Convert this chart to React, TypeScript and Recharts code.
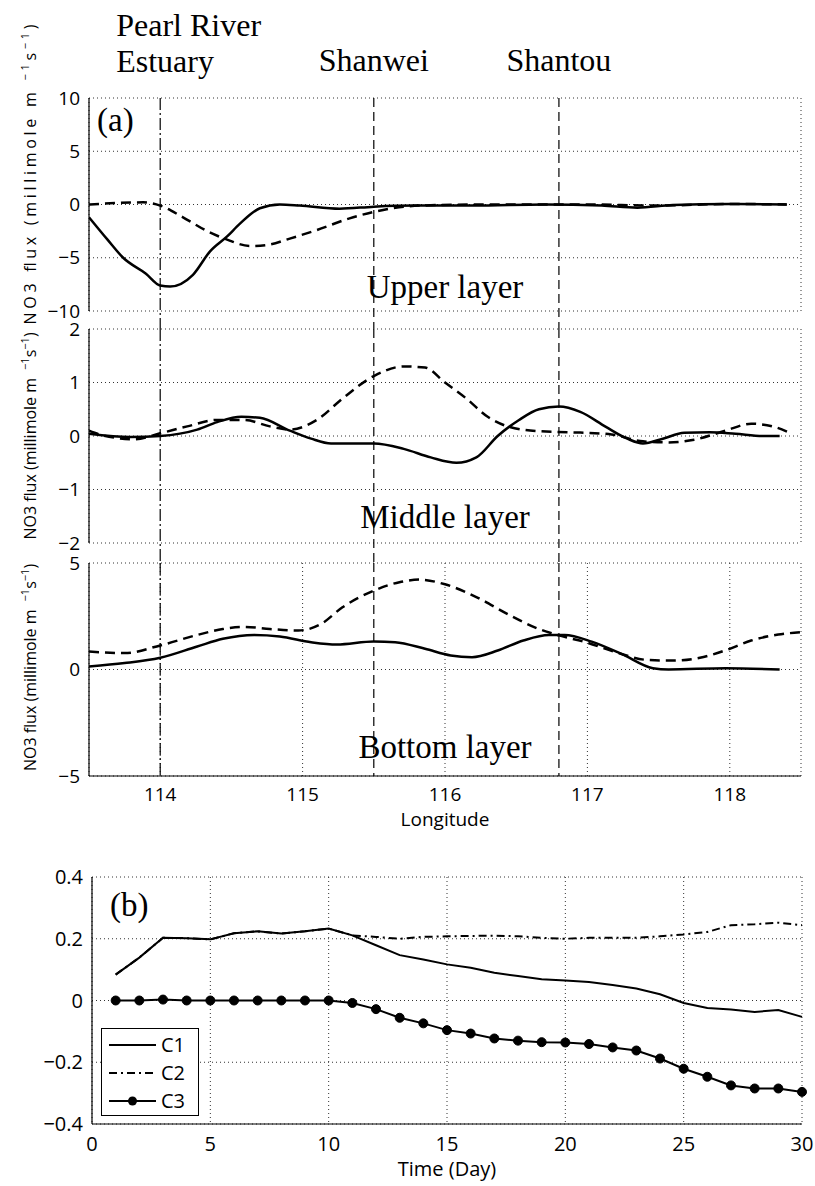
import React from "react";
import {
  CartesianGrid,
  Legend,
  Line,
  LineChart,
  ReferenceLine,
  XAxis,
  YAxis,
} from "recharts";

// ---- panel (a): NO3 flux along the coast, [longitude, value] ----
const LON_DOMAIN: [number, number] = [113.5, 118.5];
const LON_TICKS = [114, 115, 116, 117, 118];

const upperSolid: [number, number][] = [
  [113.5, -1.2], [113.63, -3.3], [113.74, -5.0], [113.9, -6.5], [114.0, -7.6],
  [114.07, -7.7], [114.23, -6.6], [114.35, -4.4], [114.47, -3.0], [114.56, -1.8],
  [114.7, -0.35], [114.84, 0.0], [114.98, -0.1], [115.26, -0.4], [115.5, -0.2],
  [115.8, -0.1], [116.2, -0.1], [116.7, 0.0], [117.1, -0.1], [117.35, -0.3],
  [117.6, -0.05], [118.0, 0.05], [118.4, 0.0],
];
const upperDashed: [number, number][] = [
  [113.5, 0.0], [113.88, 0.2], [114.0, -0.1], [114.16, -1.2], [114.33, -2.5],
  [114.47, -3.3], [114.63, -3.9], [114.75, -3.8], [114.91, -3.2], [115.1, -2.4],
  [115.33, -1.3], [115.5, -0.7], [115.82, -0.1], [116.3, 0.0], [117.0, 0.0],
  [117.5, -0.1], [118.0, 0.05], [118.4, 0.0],
];
const middleSolid: [number, number][] = [
  [113.5, 0.04], [113.79, -0.02], [114.0, 0.0], [114.26, 0.12], [114.4, 0.26],
  [114.57, 0.36], [114.7, 0.34], [114.91, 0.1], [115.06, -0.05], [115.2, -0.14],
  [115.5, -0.14], [115.71, -0.24], [115.9, -0.4], [116.08, -0.5], [116.22, -0.4],
  [116.37, 0.0], [116.52, 0.3], [116.66, 0.5], [116.8, 0.55], [116.95, 0.45],
  [117.13, 0.17], [117.28, -0.05], [117.39, -0.14], [117.53, -0.05], [117.68, 0.06],
  [117.86, 0.07], [118.04, 0.04], [118.23, 0.0], [118.35, 0.0],
];
const middleDashed: [number, number][] = [
  [113.5, 0.1], [113.6, 0.01], [113.82, -0.06], [114.0, 0.05], [114.19, 0.18],
  [114.4, 0.3], [114.59, 0.3], [114.77, 0.18], [114.91, 0.12], [115.1, 0.3],
  [115.28, 0.7], [115.5, 1.12], [115.71, 1.3], [115.86, 1.28], [116.0, 1.0],
  [116.15, 0.7], [116.3, 0.36], [116.44, 0.18], [116.66, 0.09], [116.88, 0.07],
  [117.17, 0.03], [117.39, -0.1], [117.57, -0.12], [117.75, -0.07], [117.97, 0.1],
  [118.15, 0.23], [118.3, 0.18], [118.42, 0.06],
];
const bottomSolid: [number, number][] = [
  [113.5, 0.14], [113.75, 0.3], [114.0, 0.55], [114.26, 1.08], [114.44, 1.44],
  [114.66, 1.62], [114.84, 1.55], [115.06, 1.28], [115.24, 1.17], [115.5, 1.31],
  [115.65, 1.28], [115.86, 0.97], [116.04, 0.66], [116.19, 0.58], [116.37, 0.89],
  [116.55, 1.36], [116.73, 1.62], [116.84, 1.62], [117.03, 1.31], [117.24, 0.73],
  [117.46, 0.06], [117.57, 0.0], [117.97, 0.06], [118.35, 0.0],
];
const bottomDashed: [number, number][] = [
  [113.5, 0.84], [113.75, 0.77], [114.0, 1.13], [114.26, 1.62], [114.44, 1.9],
  [114.59, 2.0], [114.77, 1.9], [114.97, 1.83], [115.13, 2.14], [115.28, 2.92],
  [115.5, 3.7], [115.68, 4.1], [115.82, 4.22], [116.0, 4.0], [116.22, 3.4],
  [116.44, 2.6], [116.66, 1.9], [116.8, 1.6], [116.99, 1.28], [117.2, 0.81],
  [117.42, 0.45], [117.6, 0.42], [117.79, 0.55], [117.97, 0.9], [118.15, 1.36],
  [118.34, 1.64], [118.5, 1.75],
];

const SITES = [
  { name: ["Pearl River", "Estuary"], lon: 114.0, dash: "12 3 2 3" },
  { name: ["Shanwei"], lon: 115.5, dash: "9 5" },
  { name: ["Shantou"], lon: 116.8, dash: "9 5" },
];

// ---- panel (b): daily series ----
const DAYS = [
  1, 2, 3, 4, 5, 6, 7, 8, 9, 10, 11, 12, 13, 14, 15,
  16, 17, 18, 19, 20, 21, 22, 23, 24, 25, 26, 27, 28, 29, 30,
];
const C1 = [
  0.084, 0.139, 0.203, 0.202, 0.198, 0.218, 0.224, 0.217, 0.224, 0.233,
  0.211, 0.179, 0.147, 0.133, 0.117, 0.106, 0.09, 0.079, 0.069, 0.065,
  0.06, 0.05, 0.039, 0.02, -0.008, -0.024, -0.029, -0.037, -0.031, -0.053,
];
const C2 = [
  0.084, 0.139, 0.203, 0.202, 0.198, 0.218, 0.224, 0.217, 0.224, 0.233,
  0.211, 0.206, 0.2, 0.206, 0.208, 0.209, 0.21, 0.208, 0.203, 0.2,
  0.203, 0.203, 0.203, 0.208, 0.214, 0.222, 0.244, 0.247, 0.252, 0.244,
];
const C3 = [
  0, 0, 0.003, 0, 0, 0, 0, 0, 0, 0,
  -0.008, -0.028, -0.056, -0.074, -0.096, -0.107, -0.123, -0.13, -0.135, -0.136,
  -0.141, -0.152, -0.162, -0.188, -0.221, -0.247, -0.275, -0.285, -0.285, -0.296,
];
const DAY_TICKS = [0, 5, 10, 15, 20, 25, 30];
const B_TICKS = [-0.4, -0.2, 0, 0.2, 0.4];

const B_SERIES = [
  { key: "c1", name: "C1", dash: undefined as string | undefined, dot: false },
  { key: "c2", name: "C2", dash: "8 4 2 4", dot: false },
  { key: "c3", name: "C3", dash: undefined as string | undefined, dot: true },
];

const SANS = "'Open Sans', 'DejaVu Sans', sans-serif";
const SERIF = "'Liberation Serif', 'Times New Roman', serif";
const tickStyle = { fill: "#000", fontSize: 19, fontFamily: SANS };
const minus = (v: number) => String(v).replace("-", "\u2212");
const toRows = (pts: [number, number][]) => pts.map(([lon, v]) => ({ lon, v }));

const YLabel = ({ viewBox, shift = 0, length }: any) => {
  const bx = viewBox.x + 36;
  const cy = viewBox.y + viewBox.height / 2 + shift;
  return (
    <text
      x={bx}
      y={cy}
      transform={`rotate(-90 ${bx} ${cy})`}
      textAnchor="middle"
      fontSize={16}
      fontFamily={SANS}
      fill="#000"
      textLength={length}
      lengthAdjust={length ? "spacing" : undefined}
    >
      NO3 flux (millimole m
      <tspan dx={8} dy={-7} fontSize={11}>{"\u22121"}</tspan>
      <tspan dy={7}>s</tspan>
      <tspan dy={-7} fontSize={11}>{"\u22121"}</tspan>
      <tspan dy={7}>)</tspan>
    </text>
  );
};

const SiteLabel = ({ viewBox, lines }: any) => {
  const two = lines.length > 1;
  const x = two ? viewBox.x - 44 : viewBox.x;
  return (
    <text
      x={x}
      y={viewBox.y - (two ? 62 : 27)}
      textAnchor={two ? "start" : "middle"}
      fontSize={32}
      fontFamily={SERIF}
      fill="#000"
    >
      {lines.map((l: string, i: number) => (
        <tspan key={l} x={x} dy={i === 0 ? 0 : 36}>
          {l}
        </tspan>
      ))}
    </text>
  );
};

interface LayerProps {
  top: number;
  plotHeight: number;
  yDomain: [number, number];
  yTicks: number[];
  solid: [number, number][];
  dashed: [number, number][];
  title: string;
  titleY: number;
  siteSpan: [number, number];
  showX?: boolean;
  siteLabels?: boolean;
  labelShift?: number;
  labelLength?: number;
  tag?: string;
  bottomPad?: number;
}

const LayerChart = ({
  top, plotHeight, yDomain, yTicks, solid, dashed, title, titleY, siteSpan,
  showX = false, siteLabels = false, labelShift = 0, labelLength, tag, bottomPad = 4,
}: LayerProps) => {
  const axisH = showX ? 56 : 0;
  const pad = showX ? 0 : bottomPad;
  const height = top + plotHeight + axisH + pad;
  return (
    <div style={{ position: "absolute", left: 0, top: 0 }}>
      <LineChart
        width={815}
        height={height}
        margin={{ top, right: 14, bottom: pad, left: 0 }}
      >
        <CartesianGrid stroke="#333" strokeDasharray="1 3" />
        <XAxis
          type="number"
          dataKey="lon"
          domain={LON_DOMAIN}
          ticks={LON_TICKS}
          allowDataOverflow
          height={axisH}
          tick={showX ? tickStyle : false}
          tickSize={0}
          tickMargin={12}
          tickLine={false}
          axisLine={{ stroke: "#000", strokeWidth: 1.2 }}
          label={
            showX
              ? { value: "Longitude", position: "insideBottom", offset: 6, fill: "#000", fontSize: 19, fontFamily: SANS }
              : undefined
          }
        />
        <XAxis
          xAxisId="frame"
          orientation="top"
          type="number"
          domain={LON_DOMAIN}
          height={0}
          tick={false}
          tickLine={false}
          axisLine={{ stroke: "#000", strokeWidth: 1.2 }}
        />
        <YAxis
          type="number"
          domain={yDomain}
          ticks={yTicks}
          allowDataOverflow
          width={89}
          tick={tickStyle}
          tickFormatter={minus}
          tickSize={0}
          tickMargin={9}
          tickLine={false}
          axisLine={{ stroke: "#000", strokeWidth: 1.2 }}
          label={<YLabel shift={labelShift} length={labelLength} />}
        />
        <YAxis
          yAxisId="frame"
          orientation="right"
          type="number"
          domain={yDomain}
          width={0}
          tick={false}
          tickLine={false}
          axisLine={{ stroke: "#000", strokeWidth: 1.2 }}
        />
        <Line
          data={toRows(solid)}
          dataKey="v"
          type="monotone"
          stroke="#000"
          strokeWidth={2.5}
          dot={false}
          isAnimationActive={false}
        />
        <Line
          data={toRows(dashed)}
          dataKey="v"
          type="monotone"
          stroke="#000"
          strokeWidth={2.5}
          strokeDasharray="10 6"
          dot={false}
          isAnimationActive={false}
        />
        {SITES.map((s) => (
          <ReferenceLine
            key={s.lon}
            segment={[
              { x: s.lon, y: siteSpan[0] },
              { x: s.lon, y: siteSpan[1] },
            ]}
            ifOverflow="visible"
            stroke="#000"
            strokeWidth={1.2}
            strokeDasharray={s.dash}
            label={siteLabels ? <SiteLabel lines={s.name} /> : undefined}
          />
        ))}
        <text x={445} y={titleY} textAnchor="middle" fontSize={33} fontFamily={SERIF} fill="#000">
          {title}
        </text>
        {tag && (
          <text x={97} y={131} fontSize={33} fontFamily={SERIF} fill="#000">
            {tag}
          </text>
        )}
      </LineChart>
    </div>
  );
};

const LegendBox = () => (
  <div
    style={{
      border: "1.5px solid #000",
      background: "#fff",
      width: 98,
      height: 88,
      boxSizing: "border-box",
      padding: "2px 0 0 7px",
      fontFamily: SANS,
    }}
  >
    {B_SERIES.map((s) => (
      <div key={s.key} style={{ display: "flex", alignItems: "center", height: 28 }}>
        <svg width={47} height={14}>
          <line x1={0} x2={47} y1={7} y2={7} stroke="#000" strokeWidth={2} strokeDasharray={s.dash} />
          {s.dot && <circle cx={23.5} cy={7} r={4.5} fill="#000" />}
        </svg>
        <span style={{ marginLeft: 5, fontSize: 20, lineHeight: "20px" }}>{s.name}</span>
      </div>
    ))}
  </div>
);

const TimeChart = () => {
  const rows = DAYS.map((d, i) => ({ day: d, c1: C1[i], c2: C2[i], c3: C3[i] }));
  const bTick = { fill: "#000", fontSize: 20, fontFamily: SANS };
  return (
    <div style={{ position: "absolute", left: 0, top: 0 }}>
      <LineChart
        width={815}
        height={1186}
        data={rows}
        margin={{ top: 877, right: 13, bottom: 0, left: 0 }}
      >
        <CartesianGrid stroke="#333" strokeDasharray="1 3" />
        <XAxis
          type="number"
          dataKey="day"
          domain={[0, 30]}
          ticks={DAY_TICKS}
          height={62}
          tick={bTick}
          tickSize={0}
          tickMargin={13}
          tickLine={false}
          axisLine={{ stroke: "#000", strokeWidth: 1.2 }}
          label={{ value: "Time (Day)", position: "insideBottom", offset: 10, fill: "#000", fontSize: 20, fontFamily: SANS }}
        />
        <XAxis
          xAxisId="frame"
          orientation="top"
          type="number"
          domain={[0, 30]}
          height={0}
          tick={false}
          tickLine={false}
          axisLine={{ stroke: "#000", strokeWidth: 1.2 }}
        />
        <YAxis
          type="number"
          domain={[-0.4, 0.4]}
          ticks={B_TICKS}
          width={92}
          tick={bTick}
          tickFormatter={minus}
          tickSize={0}
          tickMargin={9}
          tickLine={false}
          axisLine={{ stroke: "#000", strokeWidth: 1.2 }}
        />
        <YAxis
          yAxisId="frame"
          orientation="right"
          type="number"
          domain={[-0.4, 0.4]}
          width={0}
          tick={false}
          tickLine={false}
          axisLine={{ stroke: "#000", strokeWidth: 1.2 }}
        />
        {B_SERIES.map((s) => (
          <Line
            key={s.key}
            dataKey={s.key}
            name={s.name}
            type="linear"
            stroke="#000"
            strokeWidth={2}
            strokeDasharray={s.dash}
            dot={s.dot ? { r: 4.5, fill: "#000", stroke: "#000", strokeWidth: 1 } : false}
            isAnimationActive={false}
          />
        ))}
        <Legend
          layout="vertical"
          align="center"
          verticalAlign="middle"
          wrapperStyle={{ left: 101, top: 1028, width: "auto", right: "auto", bottom: "auto" }}
          content={() => <LegendBox />}
        />
        <text x={110} y={916} fontSize={33} fontFamily={SERIF} fill="#000">
          (b)
        </text>
      </LineChart>
    </div>
  );
};

export default function App() {
  return (
    <div
      style={{
        position: "absolute",
        left: 0,
        top: 0,
        width: 815,
        height: 1186,
        background: "#fff",
        overflow: "hidden",
      }}
    >
      <LayerChart
        top={98}
        plotHeight={213}
        yDomain={[-10, 10]}
        yTicks={[-10, -5, 0, 5, 10]}
        solid={upperSolid}
        dashed={upperDashed}
        title="Upper layer"
        titleY={298}
        siteSpan={[10, -11.7]}
        siteLabels
        labelShift={-30}
        labelLength={300}
        bottomPad={22}
        tag="(a)"
      />
      <LayerChart
        top={329}
        plotHeight={214}
        yDomain={[-2, 2]}
        yTicks={[-2, -1, 0, 1, 2]}
        solid={middleSolid}
        dashed={middleDashed}
        title="Middle layer"
        titleY={528}
        siteSpan={[2, -2.4]}
        bottomPad={22}
      />
      <LayerChart
        top={563}
        plotHeight={213}
        yDomain={[-5, 5]}
        yTicks={[-5, 0, 5]}
        solid={bottomSolid}
        dashed={bottomDashed}
        title="Bottom layer"
        titleY={758}
        siteSpan={[5, -5]}
        labelShift={-2}
        showX
      />
      <TimeChart />
    </div>
  );
}
